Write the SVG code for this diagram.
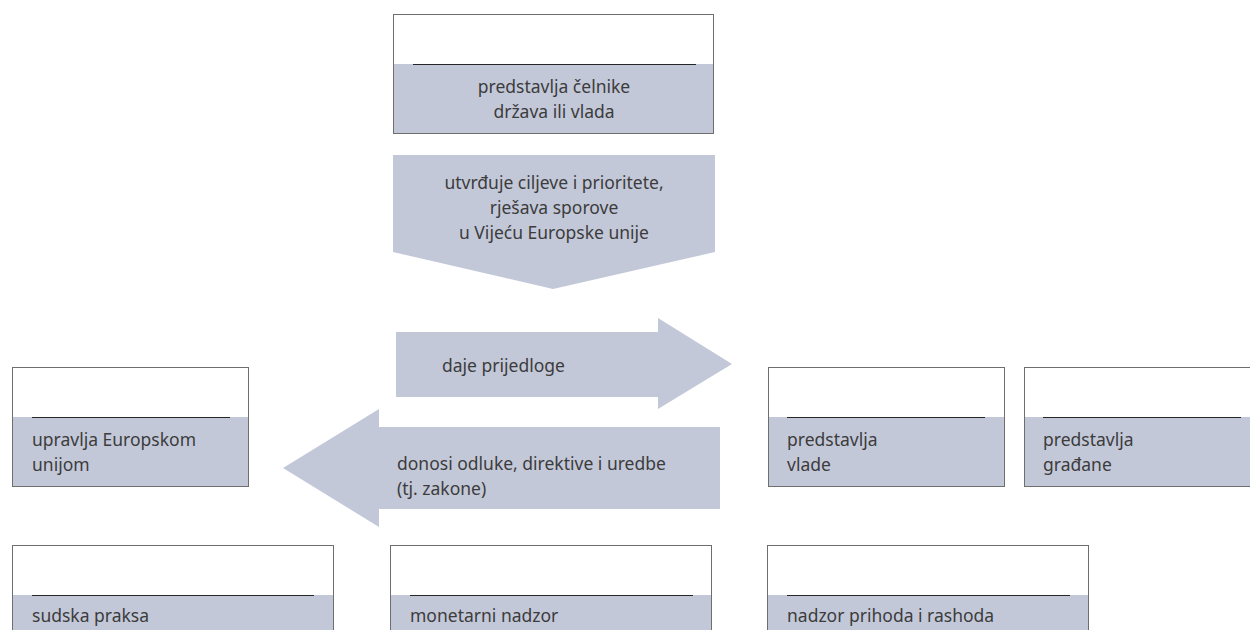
<svg xmlns="http://www.w3.org/2000/svg" width="1250" height="630" viewBox="0 0 1250 630">
<style>
.frame{fill:#ffffff;stroke:#6e6e6e;stroke-width:1}
.band{fill:#c3c8d9}
.rule{stroke:#262626;stroke-width:1}
.arrow{fill:#c3c8d9}
text{font-family:"Noto Sans","Liberation Sans",sans-serif;font-size:17.5px;fill:#3c3c3c}
.c{text-anchor:middle}
</style>
<rect width="1250" height="630" fill="#ffffff"/>
<g id="connectors">
<polygon class="arrow" points="393,155 715,155 715,252 553,289 393,252"/>
<polygon class="arrow" points="396,332 658,332 658,318 732,364 658,409 658,397 396,397"/>
<polygon class="arrow" points="720,427 379,427 379,409 283,468 379,527 379,509 720,509"/>
<text class="c" x="554" y="189">utvrđuje ciljeve i prioritete,</text>
<text class="c" x="554" y="214">rješava sporove</text>
<text class="c" x="554" y="239">u Vijeću Europske unije</text>
<text x="442" y="372">daje prijedloge</text>
<text x="397" y="470">donosi odluke, direktive i uredbe</text>
<text x="397" y="495">(tj. zakone)</text>
</g>
<g id="node-top">
<rect class="frame" x="393.5" y="14.5" width="320" height="119"/>
<rect class="band" x="394" y="64" width="319" height="69"/>
<line class="rule" x1="413" y1="64.5" x2="696" y2="64.5"/>
<text class="c" x="554" y="93">predstavlja čelnike</text>
<text class="c" x="554" y="118">država ili vlada</text>
</g>
<g id="node-left">
<rect class="frame" x="12.5" y="367.5" width="236" height="119"/>
<rect class="band" x="13" y="417" width="235" height="69"/>
<line class="rule" x1="32" y1="417.5" x2="230" y2="417.5"/>
<text x="32" y="446">upravlja Europskom</text>
<text x="32" y="471">unijom</text>
</g>
<g id="node-right1">
<rect class="frame" x="768.5" y="367.5" width="236" height="119"/>
<rect class="band" x="769" y="417" width="235" height="69"/>
<line class="rule" x1="787" y1="417.5" x2="985" y2="417.5"/>
<text x="787" y="446">predstavlja</text>
<text x="787" y="471">vlade</text>
</g>
<g id="node-right2">
<rect class="frame" x="1024.5" y="367.5" width="236" height="119"/>
<rect class="band" x="1025" y="417" width="235" height="69"/>
<line class="rule" x1="1043" y1="417.5" x2="1241" y2="417.5"/>
<text x="1043" y="446">predstavlja</text>
<text x="1043" y="471">građane</text>
</g>
<g id="node-bottom1">
<rect class="frame" x="12.5" y="545.5" width="321" height="100"/>
<rect class="band" x="13" y="595" width="320" height="40"/>
<line class="rule" x1="32" y1="595.5" x2="314" y2="595.5"/>
<text x="32" y="622">sudska praksa</text>
</g>
<g id="node-bottom2">
<rect class="frame" x="390.5" y="545.5" width="321" height="100"/>
<rect class="band" x="391" y="595" width="320" height="40"/>
<line class="rule" x1="410" y1="595.5" x2="693" y2="595.5"/>
<text x="410" y="622">monetarni nadzor</text>
</g>
<g id="node-bottom3">
<rect class="frame" x="767.5" y="545.5" width="321" height="100"/>
<rect class="band" x="768" y="595" width="320" height="40"/>
<line class="rule" x1="787" y1="595.5" x2="1070" y2="595.5"/>
<text x="787" y="622">nadzor prihoda i rashoda</text>
</g>
</svg>
